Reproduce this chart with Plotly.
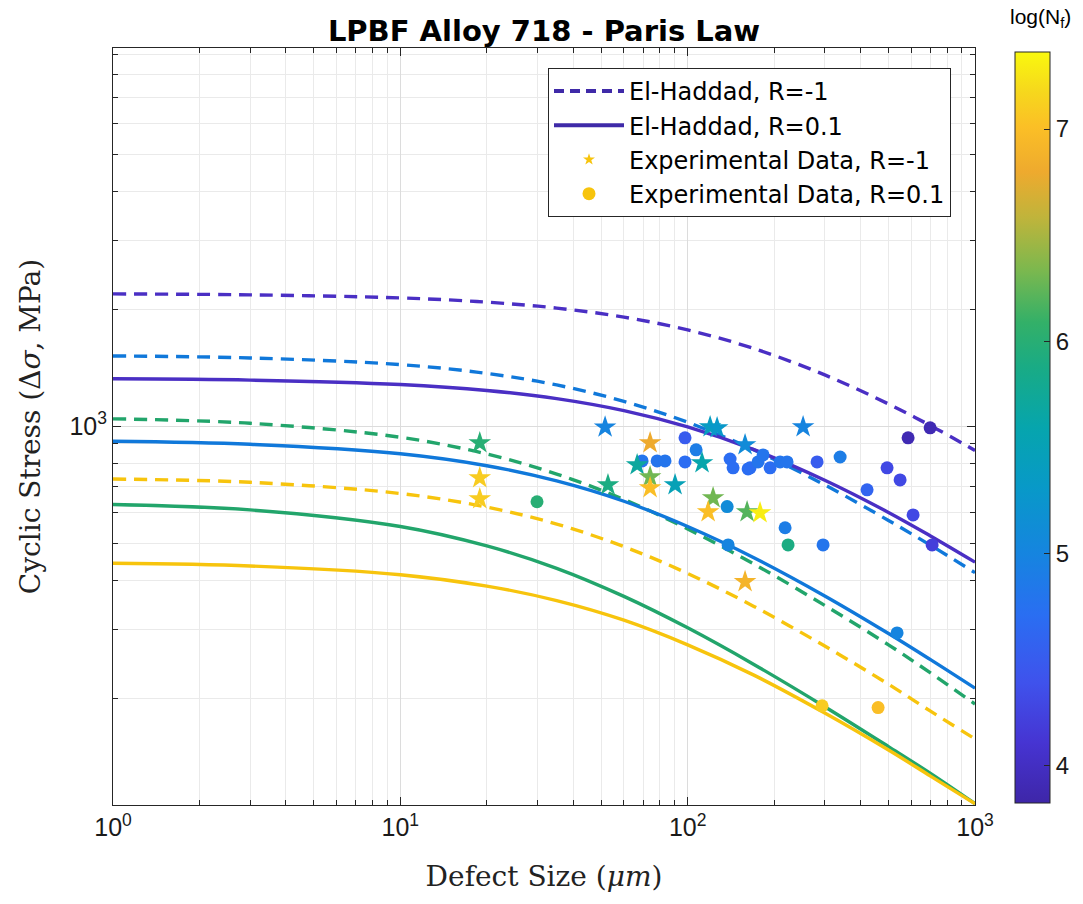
import plotly.graph_objects as go

# ---------------- data ----------------
defect_size_curve = [1, 3, 10, 20, 35, 60, 100, 170, 300, 500, 700, 1000]

# El-Haddad curves, R = -1 (dashed)
eh_rm1_logN4 = [2187, 2175, 2136, 2083, 2011, 1906, 1767, 1583, 1354, 1140, 1003, 866]
eh_rm1_logN5 = [1515, 1497, 1439, 1366, 1276, 1158, 1023, 869, 706, 572, 494, 420]
eh_rm1_logN6 = [1044, 1017, 936, 848, 753, 648, 544, 442, 346, 274, 232, 193]
eh_rm1_logN7 = [731, 717, 671, 619, 560, 490, 418, 344, 272, 217, 185, 157]

# El-Haddad curves, R = 0.1 (solid)
eh_r01_logN4 = [1323, 1313, 1279, 1235, 1177, 1096, 995, 870, 726, 600, 522, 447]
eh_r01_logN5 = [914, 898, 849, 791, 723, 641, 552, 459, 366, 293, 251, 212]
eh_r01_logN6 = [629, 609, 552, 492, 431, 365, 303, 244, 190, 150, 128, 107]
eh_r01_logN7 = [444, 437, 415, 388, 356, 317, 274, 229, 183, 147, 126, 107]

curve_colors = ['#4a2fc4', '#1078da', '#22a56b', '#f7c40d']

# Experimental data, R = -1 (stars)
star_a = [18.9, 18.9, 18.9, 51.6, 74.0, 66.7, 74.0, 74.0, 52.8, 90.4, 112.2, 119.7,
          126.6, 122.6, 117.8, 158.4, 161.0, 252.2, 178.6, 158.4]
star_s = [905, 736, 650, 994, 905, 795, 740, 694, 706, 706, 804, 995,
          989, 654, 602, 895, 602, 995, 598, 398]
star_logN = [6.0, 7.1, 7.1, 5.0, 6.8, 5.7, 6.3, 7.0, 5.9, 5.5, 5.6, 5.4,
             5.3, 6.3, 7.0, 5.1, 6.2, 5.0, 7.3, 6.9]

# Experimental data, R = 0.1 (circles)
circ_a = [29.9, 69.4, 78.3, 83.4, 97.9, 107, 97.9, 140.5, 143.9, 162.3, 164.9, 175.8,
          183, 193.6, 209.7, 221.8, 282.1, 339.3, 421.1, 494.3, 548.7, 585, 697.9,
          608.9, 709.2, 137.2, 218.3, 223.6, 296, 138.3, 535.6, 293.7, 460]
circ_s = [639, 814, 814, 814, 933, 869, 809, 823, 781, 776, 781, 809,
          843, 781, 809, 809, 809, 833, 686, 781, 727, 933, 990,
          591, 495, 621, 548, 495, 495, 495, 294, 191, 189]
circ_logN = [6.0, 4.8, 4.8, 4.8, 4.5, 4.9, 4.7, 4.7, 4.7, 4.7, 4.7, 4.8,
             4.8, 4.7, 4.8, 4.8, 4.5, 4.9, 4.6, 4.3, 4.3, 3.9, 3.9,
             4.3, 4.2, 5.1, 4.9, 5.9, 4.8, 5.0, 5.0, 7.1, 7.0]

x_major = [1, 10, 100, 1000]
x_labels = ['10<sup>0</sup>', '10<sup>1</sup>', '10<sup>2</sup>', '10<sup>3</sup>']
y_major = [1000]
y_labels = ['10<sup>3</sup>']
cbar_ticks = [4, 5, 6, 7]

parula = [
    [0.00, '#3e26a8'], [0.08, '#4634d2'], [0.16, '#3f52ec'], [0.25, '#2a6ef2'],
    [0.33, '#1684e0'], [0.42, '#0899c8'], [0.50, '#06a5ad'], [0.58, '#19ab85'],
    [0.64, '#33b068'], [0.71, '#7cb84e'], [0.78, '#c0b43b'], [0.84, '#eeaa2e'],
    [0.90, '#fbbf26'], [0.95, '#f6d91c'], [1.00, '#f9f80e'],
]

W, H = 1083, 904
L, R, T, B = 113, 975, 48, 805
PW, PH = R - L, B - T

fig = go.Figure()

# legend-only entries
fig.add_trace(go.Scatter(x=[None], y=[None], mode='lines', name='El-Haddad, R=-1',
                         line=dict(color='#3f2aa8', width=4, dash='10px,6px')))
fig.add_trace(go.Scatter(x=[None], y=[None], mode='lines', name='El-Haddad, R=0.1',
                         line=dict(color='#3f2aa8', width=4)))
fig.add_trace(go.Scatter(x=[None], y=[None], mode='markers', name='Experimental Data, R=-1',
                         marker=dict(symbol='star', size=9, color='#f7c40d')))
fig.add_trace(go.Scatter(x=[None], y=[None], mode='markers', name='Experimental Data, R=0.1',
                         marker=dict(symbol='circle', size=13, color='#f7c40d')))

rm1 = [eh_rm1_logN4, eh_rm1_logN5, eh_rm1_logN6, eh_rm1_logN7]
r01 = [eh_r01_logN4, eh_r01_logN5, eh_r01_logN6, eh_r01_logN7]
for ys, c in zip(rm1, curve_colors):
    fig.add_trace(go.Scatter(x=defect_size_curve, y=ys, mode='lines', showlegend=False,
                             line=dict(color=c, width=3.4, dash='13px,8px', shape='spline'),
                             hoverinfo='skip'))
for ys, c in zip(r01, curve_colors):
    fig.add_trace(go.Scatter(x=defect_size_curve, y=ys, mode='lines', showlegend=False,
                             line=dict(color=c, width=3.4, shape='spline'),
                             hoverinfo='skip'))

fig.add_trace(go.Scatter(x=circ_a, y=circ_s, mode='markers', showlegend=False,
                         marker=dict(symbol='circle', size=13, color=circ_logN,
                                     coloraxis='coloraxis', line=dict(width=0))))
fig.add_trace(go.Scatter(x=star_a, y=star_s, mode='markers', showlegend=False,
                         marker=dict(symbol='star', size=17, color=star_logN,
                                     coloraxis='coloraxis', line=dict(width=0))))

x_minor = [m * d for d in [1, 10, 100] for m in range(2, 10)]
y_minor = [m * d for d in [100, 1000] for m in range(2, 10)]

axis_common = dict(
    type='log', showline=True, linecolor='#262626', linewidth=1, mirror='allticks',
    ticks='inside', ticklen=8, tickcolor='#262626', tickwidth=1,
    showgrid=True, gridcolor='#dcdcdc', gridwidth=1, zeroline=False,
    tickfont=dict(family='Liberation Sans', size=25, color='#1a1a1a'),
)

fig.update_layout(
    width=W, height=H,
    margin=dict(l=L, r=W - R, t=T, b=H - B, autoexpand=False),
    paper_bgcolor='white', plot_bgcolor='white',
    title=dict(text='<b>LPBF Alloy 718 - Paris Law</b>', x=(L + R) / 2 / W, xanchor='center',
               y=1 - 31 / H, yanchor='middle', yref='container',
               font=dict(family='DejaVu Sans', size=29, color='#000')),
    xaxis=dict(axis_common, range=[0, 3], tickvals=x_major, ticktext=x_labels,
               minor=dict(tickvals=x_minor, ticks='inside', ticklen=5, tickcolor='#262626',
                          showgrid=True, gridcolor='#eaeaea'),
               title=dict(text='Defect Size (<i>μm</i>)', standoff=26,
                          font=dict(family='DejaVu Serif', size=28, color='#222'))),
    yaxis=dict(axis_common, range=[2.026, 3.972], tickvals=y_major, ticktext=y_labels,
               minor=dict(tickvals=y_minor, ticks='inside', ticklen=5, tickcolor='#262626',
                          showgrid=True, gridcolor='#eaeaea'),
               title=dict(text='Cyclic Stress (Δ<i>σ</i>, MPa)', standoff=20,
                          font=dict(family='DejaVu Serif', size=28, color='#222'))),
    coloraxis=dict(
        cmin=3.825, cmax=7.363, colorscale=parula,
        colorbar=dict(
            thickness=35, thicknessmode='pixels', lenmode='pixels', len=751,
            x=(1015 - L) / PW, xref='paper', xanchor='left', xpad=0,
            y=(B - 52) / PH, yref='paper', yanchor='top', ypad=0,
            tickvals=cbar_ticks, ticks='inside', ticklen=6, tickcolor='#262626',
            outlinewidth=1, outlinecolor='#262626',
            tickfont=dict(family='Liberation Sans', size=24, color='#1a1a1a'),
        ),
    ),
    legend=dict(x=(548 - L) / PW, y=(B - 68) / PH, xanchor='left', yanchor='top',
                bgcolor='white', bordercolor='#262626', borderwidth=1,
                font=dict(family='DejaVu Sans', size=24, color='#000'),
                itemwidth=70, tracegroupgap=0),
    annotations=[dict(text='log(N<sub>f</sub>)', xref='paper', yref='paper',
                      x=(1040 - L) / PW, y=(B - 18) / PH, showarrow=False,
                      xanchor='center', yanchor='middle',
                      font=dict(family='Liberation Sans', size=21, color='#000'))],
)

fig.write_html('out.html')
